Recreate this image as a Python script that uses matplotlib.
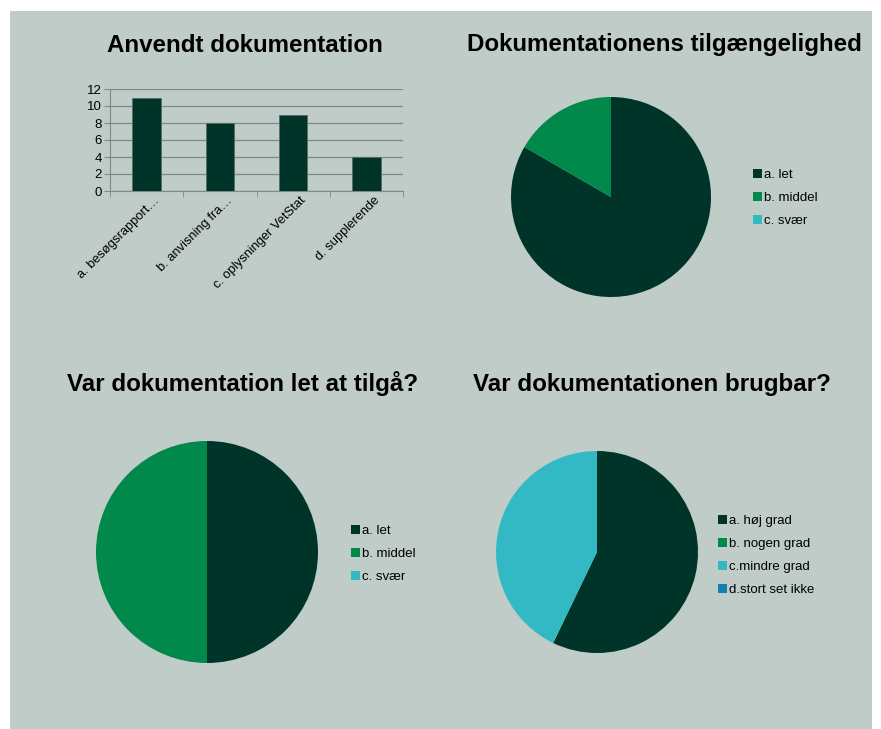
import matplotlib
matplotlib.use("Agg")
import matplotlib.pyplot as plt
from matplotlib.patches import Rectangle
from matplotlib.transforms import ScaledTranslation

plt.rcParams['font.family'] = ['Liberation Sans', 'DejaVu Sans']

# --- data ---
doc_categories = ["a. besøgsrapport…", "b. anvisning fra…", "c. oplysninger VetStat", "d. supplerende"]
doc_counts = [11, 8, 9, 4]
y_ticks = [0, 2, 4, 6, 8, 10, 12]

access_labels = ["a. let", "b. middel", "c. svær"]
access_values = [5, 1, 0]

easy_labels = ["a. let", "b. middel", "c. svær"]
easy_values = [1, 1, 0]

useful_labels = ["a. høj grad", "b. nogen grad", "c.mindre grad", "d.stort set ikke"]
useful_values = [4, 0, 3, 0]

titles = ["Anvendt dokumentation", "Dokumentationens tilgængelighed",
          "Var dokumentation let at tilgå?", "Var dokumentationen brugbar?"]

# --- styling ---
BG = "#bfccc8"
DARK = "#003428"
GREEN = "#00894b"
CYAN = "#33b9c4"
BLUE = "#1380b0"
pie_colors = [DARK, GREEN, CYAN, BLUE]

W, H = 881, 729
fig = plt.figure(figsize=(W / 100, H / 100), dpi=100)
fig.patch.set_facecolor("white")


def box(x0, y0, x1, y1):
    """pixel box (top-left origin) -> figure fraction rect"""
    return [x0 / W, 1 - y1 / H, (x1 - x0) / W, (y1 - y0) / H]


# gray panel behind everything
fig.patches.append(Rectangle((10 / W, 0), (872 - 10) / W, 1 - 11 / H,
                             transform=fig.transFigure, facecolor=BG,
                             edgecolor="none", zorder=-10))

# titles
TITLE_SIZE = 17.4
fig.text(245 / W, 1 - 45 / H, titles[0], ha="center", va="center",
         fontsize=TITLE_SIZE, fontweight="bold", color="black")
fig.text(664 / W, 1 - 45 / H, titles[1], ha="center", va="center",
         fontsize=TITLE_SIZE, fontweight="bold", color="black")
fig.text(243 / W, 1 - 383 / H, titles[2], ha="center", va="center",
         fontsize=TITLE_SIZE, fontweight="bold", color="black")
fig.text(652 / W, 1 - 385 / H, titles[3], ha="center", va="center",
         fontsize=TITLE_SIZE, fontweight="bold", color="black")

# --- bar chart ---
ax = fig.add_axes(box(110, 89, 403, 191))
ax.set_facecolor("none")
x = range(len(doc_counts))
ax.bar(x, doc_counts, width=0.39, color=DARK, edgecolor="#5a6b66",
       linewidth=0.6, zorder=3)
ax.set_xlim(-0.5, len(doc_counts) - 0.5)
ax.set_ylim(0, 12)
ax.set_yticks(y_ticks)
ax.yaxis.grid(True, color="#7f8a87", linewidth=0.9, zorder=0)
for s in ["top", "right"]:
    ax.spines[s].set_visible(False)
ax.spines["left"].set_color("#7f8a87")
ax.spines["bottom"].set_color("#7f8a87")
ax.tick_params(axis="y", labelsize=9.5, length=4, color="#7f8a87", pad=2)
ax.set_xticks([i - 0.5 for i in range(len(doc_counts) + 1)], minor=True)
ax.tick_params(axis="x", which="minor", length=4, color="#7f8a87")
ax.set_xticks(list(x))
ax.set_xticklabels(doc_categories, rotation=45, ha="right",
                   rotation_mode="anchor", fontsize=9.3)
ax.tick_params(axis="x", which="major", length=0, pad=6)
# nudge the slanted category labels so their ends sit just right of each bar
shift = ScaledTranslation(7 / 100, 5 / 100, fig.dpi_scale_trans)
for lbl in ax.get_xticklabels():
    lbl.set_transform(lbl.get_transform() + shift)


def pie_chart(rect, values, labels, legend_xy):
    a = fig.add_axes(rect)
    wedges, _ = a.pie(values, colors=pie_colors[:len(values)], startangle=90,
                      counterclock=False, wedgeprops=dict(linewidth=0))
    a.set_xlim(-1, 1)
    a.set_ylim(-1, 1)
    a.set_aspect("equal")
    a.legend(wedges, labels, loc="upper left", bbox_to_anchor=legend_xy,
             bbox_transform=fig.transFigure, frameon=False, fontsize=9.5,
             handlelength=0.65, handleheight=0.65, handletextpad=0.15,
             labelspacing=0.83, borderaxespad=0, borderpad=0)
    return a


pie_chart(box(511, 97, 711, 297), access_values, access_labels,
          (753 / W, 1 - 169 / H))
pie_chart(box(96, 441, 318, 663), easy_values, easy_labels,
          (351 / W, 1 - 525 / H))
pie_chart(box(496, 451, 698, 653), useful_values, useful_labels,
          (718 / W, 1 - 515 / H))

fig.savefig("out.png", dpi=100, facecolor="white")
